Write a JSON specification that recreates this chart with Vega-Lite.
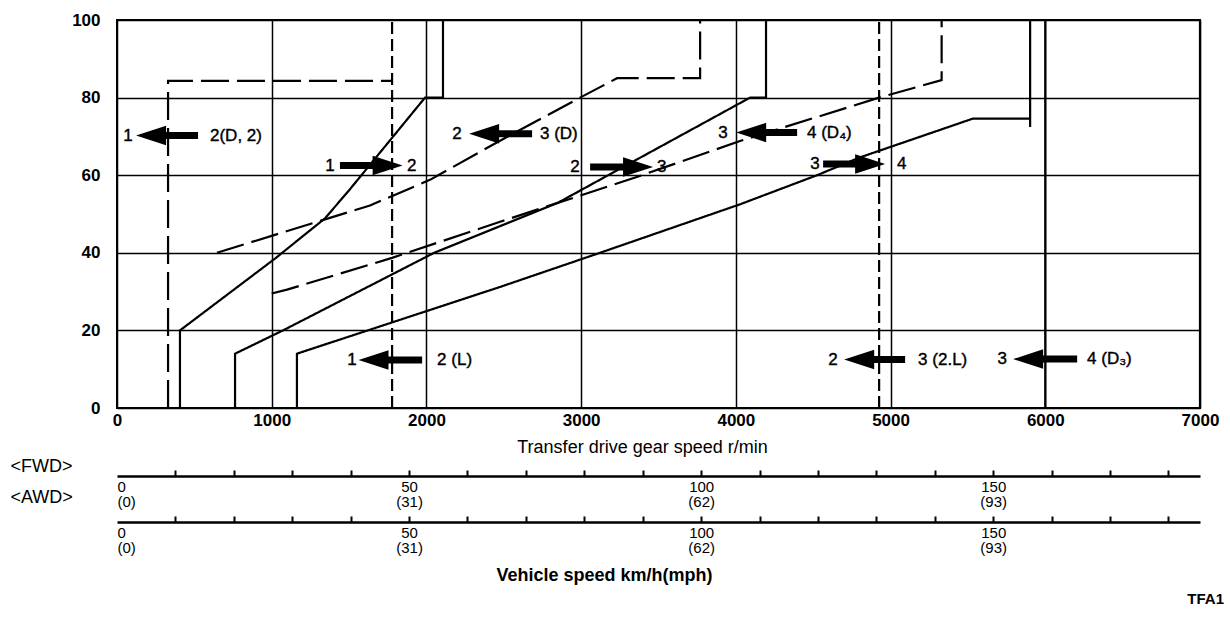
{
  "$schema": "https://vega.github.io/schema/vega-lite/v6.json",
  "width": 1083,
  "height": 388,
  "autosize": {"type": "none"},
  "padding": {"left": 117, "top": 20, "right": 30, "bottom": 218},
  "background": "white",
  "config": {
    "view": {"stroke": "black", "strokeWidth": 2},
    "font": "Liberation Sans"
  },
  "title": {
    "text": "TFA1",
    "orient": "bottom",
    "anchor": "end",
    "frame": "group",
    "dx": 24,
    "offset": 8,
    "font": "Liberation Sans",
    "fontSize": 15,
    "fontWeight": "bold",
    "color": "black"
  },
  "datasets": {
    "shift": [
      {"series": "1<2 (D,2)", "style": "dashed", "ord": 1, "rpm": 330, "pct": 0},
      {"series": "1<2 (D,2)", "style": "dashed", "ord": 2, "rpm": 330, "pct": 84.3},
      {"series": "1<2 (D,2)", "style": "dashed", "ord": 3, "rpm": 1778, "pct": 84.3},
      {"series": "1<2 (L)", "style": "vdash", "ord": 1, "rpm": 1778, "pct": 0},
      {"series": "1<2 (L)", "style": "vdash", "ord": 2, "rpm": 1778, "pct": 100},
      {"series": "1>2", "style": "solid", "ord": 1, "rpm": 407, "pct": 0},
      {"series": "1>2", "style": "solid", "ord": 2, "rpm": 407, "pct": 20},
      {"series": "1>2", "style": "solid", "ord": 3, "rpm": 1021, "pct": 38.5},
      {"series": "1>2", "style": "solid", "ord": 4, "rpm": 1345, "pct": 48.9},
      {"series": "1>2", "style": "solid", "ord": 5, "rpm": 1506, "pct": 56.4},
      {"series": "1>2", "style": "solid", "ord": 6, "rpm": 1991, "pct": 80},
      {"series": "1>2", "style": "solid", "ord": 7, "rpm": 2107, "pct": 80},
      {"series": "1>2", "style": "solid", "ord": 8, "rpm": 2107, "pct": 100},
      {"series": "2<3 (D)", "style": "dashed", "ord": 1, "rpm": 646, "pct": 40},
      {"series": "2<3 (D)", "style": "dashed", "ord": 2, "rpm": 1635, "pct": 52.2},
      {"series": "2<3 (D)", "style": "dashed", "ord": 3, "rpm": 2023, "pct": 58.8},
      {"series": "2<3 (D)", "style": "dashed", "ord": 4, "rpm": 2476, "pct": 68.9},
      {"series": "2<3 (D)", "style": "dashed", "ord": 5, "rpm": 2993, "pct": 80},
      {"series": "2<3 (D)", "style": "dashed", "ord": 6, "rpm": 3232, "pct": 85},
      {"series": "2<3 (D)", "style": "dashed", "ord": 7, "rpm": 3769, "pct": 85},
      {"series": "2<3 (D)", "style": "dashed", "ord": 8, "rpm": 3769, "pct": 100},
      {"series": "2>3", "style": "solid", "ord": 1, "rpm": 763, "pct": 0},
      {"series": "2>3", "style": "solid", "ord": 2, "rpm": 763, "pct": 14},
      {"series": "2>3", "style": "solid", "ord": 3, "rpm": 1073, "pct": 20},
      {"series": "2>3", "style": "solid", "ord": 4, "rpm": 2050, "pct": 40},
      {"series": "2>3", "style": "solid", "ord": 5, "rpm": 2850, "pct": 52.9},
      {"series": "2>3", "style": "solid", "ord": 6, "rpm": 3271, "pct": 62.1},
      {"series": "2>3", "style": "solid", "ord": 7, "rpm": 4092, "pct": 80},
      {"series": "2>3", "style": "solid", "ord": 8, "rpm": 4195, "pct": 80},
      {"series": "2>3", "style": "solid", "ord": 9, "rpm": 4195, "pct": 100},
      {"series": "3<4 (D4)", "style": "dashed", "ord": 1, "rpm": 1000, "pct": 29.5},
      {"series": "3<4 (D4)", "style": "dashed", "ord": 2, "rpm": 1099, "pct": 30.5},
      {"series": "3<4 (D4)", "style": "dashed", "ord": 3, "rpm": 1778, "pct": 38.7},
      {"series": "3<4 (D4)", "style": "dashed", "ord": 4, "rpm": 2476, "pct": 48},
      {"series": "3<4 (D4)", "style": "dashed", "ord": 5, "rpm": 3335, "pct": 59.2},
      {"series": "3<4 (D4)", "style": "dashed", "ord": 6, "rpm": 4027, "pct": 68.8},
      {"series": "3<4 (D4)", "style": "dashed", "ord": 7, "rpm": 4926, "pct": 80},
      {"series": "3<4 (D4)", "style": "dashed", "ord": 8, "rpm": 5330, "pct": 84.5},
      {"series": "3<4 (D4)", "style": "dashed", "ord": 9, "rpm": 5330, "pct": 100},
      {"series": "3>4", "style": "solid", "ord": 1, "rpm": 1163, "pct": 0},
      {"series": "3>4", "style": "solid", "ord": 2, "rpm": 1163, "pct": 14},
      {"series": "3>4", "style": "solid", "ord": 3, "rpm": 2476, "pct": 31.2},
      {"series": "3>4", "style": "solid", "ord": 4, "rpm": 3122, "pct": 40},
      {"series": "3>4", "style": "solid", "ord": 5, "rpm": 4027, "pct": 52.5},
      {"series": "3>4", "style": "solid", "ord": 6, "rpm": 4525, "pct": 60},
      {"series": "3>4", "style": "solid", "ord": 7, "rpm": 4803, "pct": 64.6},
      {"series": "3>4", "style": "solid", "ord": 8, "rpm": 5533, "pct": 74.6},
      {"series": "3>4", "style": "solid", "ord": 9, "rpm": 5902, "pct": 74.6},
      {"series": "3>4 limit", "style": "bold", "ord": 1, "rpm": 5902, "pct": 72.4},
      {"series": "3>4 limit", "style": "bold", "ord": 2, "rpm": 5902, "pct": 100},
      {"series": "2<3 (2,L)", "style": "vdash", "ord": 1, "rpm": 4926, "pct": 0},
      {"series": "2<3 (2,L)", "style": "vdash", "ord": 2, "rpm": 4926, "pct": 100},
      {"series": "3<4 (D3)", "style": "bold", "ord": 1, "rpm": 6000, "pct": 0},
      {"series": "3<4 (D3)", "style": "bold", "ord": 2, "rpm": 6000, "pct": 100},
      {"series": "7000 limit", "style": "bold", "ord": 1, "rpm": 7000, "pct": 0},
      {"series": "7000 limit", "style": "bold", "ord": 2, "rpm": 7000, "pct": 100}
    ],
    "arrows": [
      {"pct": 70.2, "leftText": "1", "leftRpm": 71, "rightText": "2(D, 2)", "rightRpm": 601, "head": 220, "dir": "left", "rpm": 220, "rpm2": 524},
      {"pct": 62.5, "leftText": "1", "leftRpm": 1377, "rightText": "2", "rightRpm": 1875, "head": 1749, "dir": "right", "rpm": 1441, "rpm2": 1749},
      {"pct": 70.7, "leftText": "2", "leftRpm": 2198, "rightText": "3 (D)", "rightRpm": 2734, "head": 2373, "dir": "left", "rpm": 2373, "rpm2": 2683},
      {"pct": 62.1, "leftText": "2", "leftRpm": 2961, "rightText": "3", "rightRpm": 3491, "head": 3368, "dir": "right", "rpm": 3058, "rpm2": 3368},
      {"pct": 71.0, "leftText": "3", "leftRpm": 3917, "rightText": "4 (D₄)", "rightRpm": 4460, "head": 4099, "dir": "left", "rpm": 4099, "rpm2": 4396},
      {"pct": 62.9, "leftText": "3", "leftRpm": 4512, "rightText": "4", "rightRpm": 5042, "head": 4868, "dir": "right", "rpm": 4564, "rpm2": 4868},
      {"pct": 12.4, "leftText": "1", "leftRpm": 1519, "rightText": "2 (L)", "rightRpm": 2069, "head": 1658, "dir": "left", "rpm": 1658, "rpm2": 1972},
      {"pct": 12.5, "leftText": "2", "leftRpm": 4628, "rightText": "3 (2.L)", "rightRpm": 5178, "head": 4797, "dir": "left", "rpm": 4797, "rpm2": 5094},
      {"pct": 12.6, "leftText": "3", "leftRpm": 5721, "rightText": "4 (D₃)", "rightRpm": 6270, "head": 5889, "dir": "left", "rpm": 5889, "rpm2": 6206}
    ],
    "speed": [
      {"kmh": 0, "mph": 0},
      {"kmh": 50, "mph": 31},
      {"kmh": 100, "mph": 62},
      {"kmh": 150, "mph": 93}
    ]
  },
  "layer": [
    {
      "layer": [
        {
          "data": {"name": "shift"},
          "mark": {"type": "line", "color": "black", "interpolate": "linear", "strokeCap": "butt"},
          "encoding": {
            "x": {
              "field": "rpm",
              "type": "quantitative",
              "scale": {"domain": [0, 7000], "nice": false, "zero": false},
              "axis": {
                "orient": "bottom",
                "values": [0, 1000, 2000, 3000, 4000, 5000, 6000, 7000],
                "format": "d",
                "grid": true,
                "gridColor": "black",
                "gridWidth": 1.5,
                "gridOpacity": 1,
                "ticks": false,
                "domain": false,
                "labelFont": "Liberation Sans Narrow, Liberation Sans",
                "labelFontSize": 17,
                "labelFontWeight": "bold",
                "labelColor": "black",
                "labelPadding": 4,
                "labelFlush": false,
                "labelOverlap": false,
                "title": "Transfer drive gear speed r/min",
                "titleFont": "Liberation Sans",
                "titleFontSize": 18,
                "titleFontWeight": "normal",
                "titleColor": "black",
                "titleX": 525,
                "titleY": 39,
                "titleBaseline": "middle",
                "titleAlign": "center"
              }
            },
            "y": {
              "field": "pct",
              "type": "quantitative",
              "scale": {"domain": [0, 100], "nice": false},
              "axis": {
                "values": [0, 20, 40, 60, 80, 100],
                "format": "d",
                "grid": true,
                "gridColor": "black",
                "gridWidth": 1.5,
                "gridOpacity": 1,
                "ticks": false,
                "domain": false,
                "labelFont": "Liberation Sans Narrow, Liberation Sans",
                "labelFontSize": 17,
                "labelFontWeight": "bold",
                "labelColor": "black",
                "labelPadding": 17,
                "labelFlush": false,
                "title": "<AWD>",
                "titleAngle": 0,
                "titleX": -107,
                "titleY": 477,
                "titleAlign": "left",
                "titleBaseline": "middle",
                "titleFont": "Liberation Sans",
                "titleFontSize": 18,
                "titleFontWeight": "normal",
                "titleColor": "black"
              }
            },
            "detail": {"field": "series"},
            "order": {"field": "ord"},
            "strokeDash": {
              "field": "style",
              "type": "nominal",
              "scale": {"domain": ["solid", "dashed", "vdash", "bold"], "range": [[1, 0], [28, 8], [12, 5], [1, 0]]},
              "legend": null
            },
            "strokeWidth": {
              "field": "style",
              "type": "ordinal",
              "scale": {"domain": ["solid", "dashed", "vdash", "bold"], "range": [2.2, 2.2, 3, 3.6]},
              "legend": null
            }
          }
        },
        {
          "data": {"name": "arrows"},
          "mark": {"type": "rule", "color": "black", "strokeWidth": 7, "strokeCap": "butt"},
          "encoding": {
            "x": {"field": "rpm", "type": "quantitative"},
            "x2": {"field": "rpm2"},
            "y": {"field": "pct", "type": "quantitative"}
          }
        },
        {
          "data": {"name": "arrows"},
          "mark": {"type": "point", "filled": true, "color": "black", "opacity": 1, "size": 900, "strokeWidth": 0},
          "encoding": {
            "x": {"field": "head", "type": "quantitative"},
            "y": {"field": "pct", "type": "quantitative"},
            "shape": {
              "field": "dir",
              "type": "nominal",
              "scale": {"domain": ["left", "right"], "range": ["M -1 0 L 1 -0.65 L 1 0.65 Z", "M 1 0 L -1 -0.65 L -1 0.65 Z"]},
              "legend": null
            }
          }
        },
        {
          "data": {"name": "arrows"},
          "mark": {"type": "text", "align": "center", "baseline": "middle", "font": "Liberation Sans", "fontSize": 17, "color": "black", "stroke": "black", "strokeWidth": 0.4},
          "encoding": {
            "x": {"field": "leftRpm", "type": "quantitative"},
            "y": {"field": "pct", "type": "quantitative"},
            "text": {"field": "leftText"}
          }
        },
        {
          "data": {"name": "arrows"},
          "mark": {"type": "text", "align": "left", "baseline": "middle", "font": "Liberation Sans", "fontSize": 17, "color": "black", "stroke": "black", "strokeWidth": 0.4},
          "encoding": {
            "x": {"field": "rightRpm", "type": "quantitative"},
            "y": {"field": "pct", "type": "quantitative"},
            "text": {"field": "rightText"}
          }
        }
      ]
    },
    {
      "data": {"name": "speed"},
      "mark": {"type": "point", "opacity": 0},
      "encoding": {
        "x": {
          "field": "kmh",
          "type": "quantitative",
          "scale": {"domain": [0, 185.4], "nice": false, "zero": false},
          "axis": {
            "orient": "bottom",
            "offset": 68,
            "values": [0, 10, 20, 30, 40, 50, 60, 70, 80, 90, 100, 110, 120, 130, 140, 150, 160, 170, 180],
            "grid": false,
            "domain": true,
            "domainColor": "black",
            "domainWidth": 2.5,
            "ticks": true,
            "tickColor": "black",
            "tickWidth": 2,
            "tickSize": -6,
            "tickOpacity": {"condition": {"test": "datum.value == 0", "value": 0}, "value": 1},
            "labelExpr": "datum.value == 0 ? ['0', '(0)'] : datum.value == 50 ? ['50', '(31)'] : datum.value == 100 ? ['100', '(62)'] : datum.value == 150 ? ['150', '(93)'] : ''",
            "labelFont": "Liberation Sans Narrow, Liberation Sans",
            "labelFontSize": 15,
            "labelColor": "black",
            "labelBaseline": "top",
            "labelLineHeight": 15,
            "labelPadding": 9,
            "labelFlush": true,
            "labelOverlap": false,
            "title": "<FWD>",
            "titleX": -107,
            "titleY": -10,
            "titleAlign": "left",
            "titleBaseline": "middle",
            "titleAngle": 0,
            "titleFont": "Liberation Sans",
            "titleFontSize": 18,
            "titleFontWeight": "normal",
            "titleColor": "black"
          }
        }
      }
    },
    {
      "data": {"name": "speed"},
      "mark": {"type": "point", "opacity": 0},
      "encoding": {
        "x": {
          "field": "kmh",
          "type": "quantitative",
          "scale": {"domain": [0, 185.4], "nice": false, "zero": false},
          "axis": {
            "orient": "bottom",
            "offset": 114,
            "values": [0, 10, 20, 30, 40, 50, 60, 70, 80, 90, 100, 110, 120, 130, 140, 150, 160, 170, 180],
            "grid": false,
            "domain": true,
            "domainColor": "black",
            "domainWidth": 2.5,
            "ticks": true,
            "tickColor": "black",
            "tickWidth": 2,
            "tickSize": -6,
            "tickOpacity": {"condition": {"test": "datum.value == 0", "value": 0}, "value": 1},
            "labelExpr": "datum.value == 0 ? ['0', '(0)'] : datum.value == 50 ? ['50', '(31)'] : datum.value == 100 ? ['100', '(62)'] : datum.value == 150 ? ['150', '(93)'] : ''",
            "labelFont": "Liberation Sans Narrow, Liberation Sans",
            "labelFontSize": 15,
            "labelColor": "black",
            "labelBaseline": "top",
            "labelLineHeight": 15,
            "labelPadding": 9,
            "labelFlush": true,
            "labelOverlap": false,
            "title": "Vehicle speed km/h(mph)",
            "titleX": 487,
            "titleY": 53,
            "titleAlign": "center",
            "titleBaseline": "middle",
            "titleAngle": 0,
            "titleFont": "Liberation Sans",
            "titleFontSize": 18,
            "titleFontWeight": "bold",
            "titleColor": "black"
          }
        }
      }
    }
  ],
  "resolve": {"scale": {"x": "independent"}, "axis": {"x": "independent"}}
}
